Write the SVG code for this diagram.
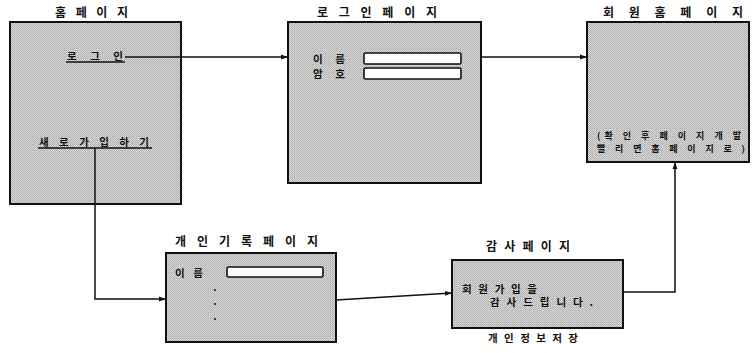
<svg xmlns="http://www.w3.org/2000/svg" width="753" height="353" viewBox="0 0 753 353">
<style>
.box{fill:#c6c6c6;stroke:#111;stroke-width:2}
.field{fill:#fff;stroke:#111;stroke-width:1.6}
text{font-family:"Noto Sans CJK KR","Noto Sans",sans-serif;font-weight:bold;fill:#111}
.t{font-size:12px}
.s{font-size:10.5px}
.n{font-size:9px}
.c{fill:none;stroke:#111;stroke-width:1.5}
.u{stroke:#111;stroke-width:1.5}
</style>
<defs>
<pattern id="dither" width="2" height="2" patternUnits="userSpaceOnUse">
<rect width="2" height="2" fill="#d8d8d8"/>
<rect width="1" height="1" fill="#acacac"/>
<rect x="1" y="1" width="1" height="1" fill="#b8b8b8"/>
</pattern>
<marker id="arr" viewBox="0 0 10 10" refX="10" refY="5" markerWidth="7" markerHeight="7" orient="auto" markerUnits="userSpaceOnUse">
<path d="M0,1.5 L10,5 L0,8.5 Z" fill="#111"/>
</marker>
</defs>

<g id="home">
<text class="t" x="55" y="17" textLength="73" lengthAdjust="spacing">홈 페 이 지</text>
<rect class="box" x="10" y="22" width="171" height="182" style="fill:url(#dither)"/>
<text class="s" x="67" y="60" textLength="56" lengthAdjust="spacing">로 그 인</text>
<line class="u" x1="66" y1="62" x2="125" y2="62"/>
<text class="s" x="39" y="146" textLength="110" lengthAdjust="spacing">새 로 가 입 하 기</text>
<line class="u" x1="38" y1="148" x2="152" y2="148"/>
</g>

<g id="login">
<text class="t" x="317" y="17" textLength="120" lengthAdjust="spacing">로 그 인 페 이 지</text>
<rect class="box" x="288" y="22" width="193" height="161" style="fill:url(#dither)"/>
<text class="s" x="313" y="63" textLength="32" lengthAdjust="spacing">이 름</text>
<text class="s" x="313" y="78" textLength="32" lengthAdjust="spacing">암 호</text>
<rect class="field" x="364" y="53" width="97" height="11" rx="1.5"/>
<rect class="field" x="364" y="68" width="97" height="11" rx="1.5"/>
</g>

<g id="memberhome">
<text class="t" x="603" y="17" textLength="140" lengthAdjust="spacing">회 원  홈 페 이 지</text>
<rect class="box" x="587" y="22" width="162" height="140" style="fill:url(#dither)"/>
<text class="n" x="597" y="139" textLength="144" lengthAdjust="spacing">(확 인 후  페 이 지 개 발</text>
<text class="n" x="597" y="152" textLength="148" lengthAdjust="spacing">빨 리 면  홈 페 이 지 로 )</text>
</g>

<g id="register">
<text class="t" x="175" y="246" textLength="143" lengthAdjust="spacing">개 인 기 록 페 이 지</text>
<rect class="box" x="166" y="253" width="170" height="89" style="fill:url(#dither)"/>
<text class="s" x="175" y="277" textLength="28" lengthAdjust="spacing">이 름</text>
<rect class="field" x="227" y="267" width="96" height="10" rx="1.5"/>
<circle cx="215" cy="290" r="1" fill="#111"/>
<circle cx="215" cy="304" r="1" fill="#111"/>
<circle cx="215" cy="319" r="1" fill="#111"/>
</g>

<g id="thanks">
<text class="t" x="486" y="251" textLength="84" lengthAdjust="spacing">감 사 페 이 지</text>
<rect class="box" x="452" y="260" width="171" height="68" style="fill:url(#dither)"/>
<text class="s" x="462" y="293" textLength="75" lengthAdjust="spacing">회 원 가 입 을</text>
<text class="s" x="490" y="306" textLength="103" lengthAdjust="spacing">감 사 드 립 니 다 .</text>
<text class="s" x="488" y="342" textLength="90" lengthAdjust="spacing">개 인 정 보 저 장</text>
</g>

<g id="connectors">
<line class="c" x1="125" y1="57" x2="288" y2="57" marker-end="url(#arr)"/>
<line class="c" x1="481" y1="57" x2="587" y2="57" marker-end="url(#arr)"/>
<polyline class="c" points="95,148 95,299 166,299" marker-end="url(#arr)"/>
<line class="c" x1="336" y1="300" x2="452" y2="293" marker-end="url(#arr)"/>
<polyline class="c" points="623,292 675,292 675,162" marker-end="url(#arr)"/>
</g>
</svg>
